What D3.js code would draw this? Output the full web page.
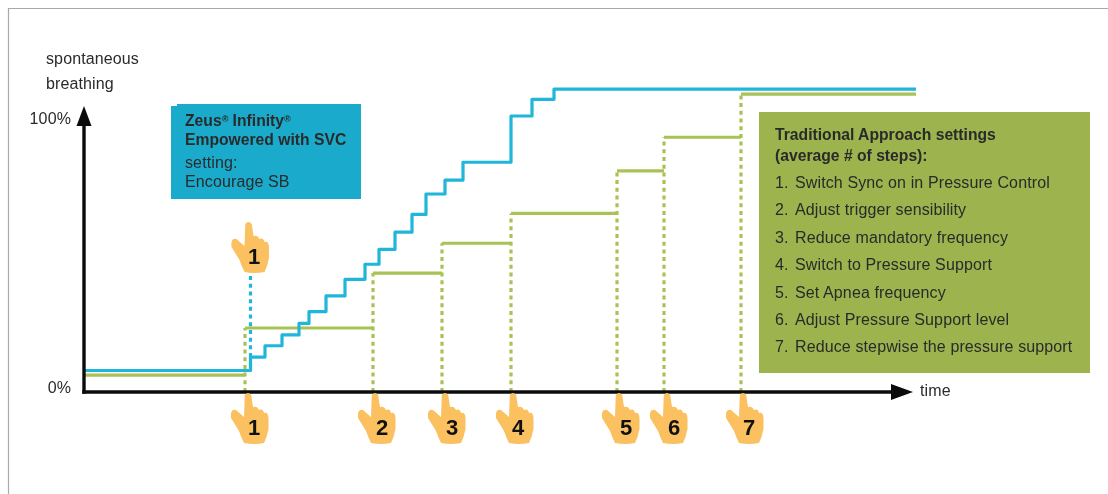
<!DOCTYPE html>
<html>
<head>
<meta charset="utf-8">
<script src="https://cdn.jsdelivr.net/npm/d3@7/dist/d3.min.js"></script>
<style>
html,body{margin:0;padding:0;background:#fff;overflow:hidden}
svg{display:block;filter:blur(0.4px)}
text{font-family:"Liberation Sans",Arial,sans-serif;fill:#2a2a2a}
</style>
</head>
<body>
<svg id="c" width="1108" height="494"></svg>
<script>
// Data. Time is in arbitrary units, breathing in %.
const blueTimes  = [0,166.5,181,198,215,225,242,261,281,295,311,328,342,361,379,427,448,470,832];
const blueLevels = [8,13,17.2,21.2,25.5,29.9,35.7,41.9,47.5,53,59.4,66,73.6,78.8,85.4,102.6,108.8,112.6,112.6];
const blueDottedTop = 44.6;
const greenTimes  = [0,161,289,358,427,533,580,657,832];
const greenLevels = [6.3,23.8,44.2,55.3,66.4,82.2,94.7,110.7,110.7];
const stepNumbers = ["1","2","3","4","5","6","7"];
const yTicks = [0,100];
const yTickLabels = ["0%","100%"];
const yTitle = ["spontaneous","breathing"];
const xTitle = "time";
const zeusLines = ["Empowered with SVC"];
const zeusSetting = ["setting:","Encourage SB"];
const tradTitle = ["Traditional Approach settings","(average # of steps):"];
const tradSteps = ["Switch Sync on in Pressure Control","Adjust trigger sensibility","Reduce mandatory frequency","Switch to Pressure Support","Set Apnea frequency","Adjust Pressure Support level","Reduce stepwise the pressure support"];

const BLUE="#1fb6da", GREEN="#a9c255", BOXBLUE="#1aabcc", BOXGREEN="#9cb34e", HAND="#fbc05f";
const FS=16, FSB=15.7, LS=0.12;
const svg=d3.select("#c");
const x=d3.scaleLinear().domain([0,832]).range([84,916]);
const y=d3.scaleLinear().domain([0,100]).range([392,123]);

// frame
svg.append("path").attr("d","M8.5,494V8.5H1108").attr("fill","none").attr("stroke","#a9a9a9").attr("stroke-width",1.2);

// text helper
function label(t,px,py,opts={}){
  return svg.append("text").attr("x",px).attr("y",py).attr("font-size",opts.size||(opts.bold?FSB:FS))
    .attr("letter-spacing",(opts.size||opts.bold)?0:LS)
    .attr("font-weight",opts.bold?"bold":"normal").attr("text-anchor",opts.anchor||"start").text(t);
}

// lines
const stepLine=d3.line().x(d=>x(d[0])).y(d=>y(d[1])).curve(d3.curveStepAfter);
const plain=d3.line().x(d=>x(d[0])).y(d=>y(d[1]));
const solid=(s,c)=>s.attr("fill","none").attr("stroke",c).attr("stroke-width",3.2).attr("stroke-linejoin","round").attr("stroke-linecap","butt");
const dotted=(s,c)=>solid(s,c).attr("stroke-dasharray","4 3.7");

// green horizontals and dashed risers
greenTimes.slice(0,-1).forEach((t,i)=>{
  svg.append("path").attr("d",plain([[t,greenLevels[i]],[greenTimes[i+1],greenLevels[i]]])).call(solid,GREEN);
  if(i>0) svg.append("path").attr("d",plain([[t,0],[t,greenLevels[i]]])).call(dotted,GREEN);
});
// blue
svg.append("path").attr("d",plain([[blueTimes[1],blueLevels[1]],[blueTimes[1],blueDottedTop]])).call(dotted,BLUE);
svg.append("path").attr("d",stepLine(blueTimes.map((t,i)=>[t,blueLevels[i]]))).call(solid,BLUE);

// axes
const yAxis=d3.axisLeft(y).tickValues(yTicks).tickFormat((d,i)=>yTickLabels[i]).tickSize(0).tickPadding(13);
const ga=svg.append("g").attr("transform",`translate(${x(0)},0)`).call(yAxis);
ga.select(".domain").remove();
ga.selectAll("text").attr("font-size",FS).attr("letter-spacing",LS).attr("font-family",null).attr("dy","0");
const axisCol="#0b0b0b";
svg.append("line").attr("x1",x(0)).attr("x2",x(0)).attr("y1",y(0)+1.7).attr("y2",122).attr("stroke",axisCol).attr("stroke-width",3.4);
svg.append("path").attr("d",d3.line()([[x(0),106],[x(0)+7.5,126],[x(0)-7.5,126]])+"Z").attr("fill",axisCol);
svg.append("line").attr("x1",x(0)-1.7).attr("x2",895).attr("y1",y(0)).attr("y2",y(0)).attr("stroke",axisCol).attr("stroke-width",3.4);
svg.append("path").attr("d",d3.line()([[913,y(0)],[891,y(0)-8],[891,y(0)+8]])+"Z").attr("fill",axisCol);

yTitle.forEach((t,i)=>label(t,46,64+i*25));
label(xTitle,920,396);

// boxes
svg.append("path").attr("d","M177,104H361V199H171V106H177Z").attr("fill",BOXBLUE);
svg.append("rect").attr("x",759).attr("y",112).attr("width",331).attr("height",261).attr("fill",BOXGREEN);

// Zeus box text
const z=svg.append("text").attr("x",185).attr("y",126).attr("font-size",FSB).attr("font-weight","bold");
z.append("tspan").text("Zeus");
z.append("tspan").attr("font-size",9).attr("dy",-4).text("®");
z.append("tspan").attr("dy",4).text(" Infinity");
z.append("tspan").attr("font-size",9).attr("dy",-4).text("®");
zeusLines.forEach(t=>label(t,185,145,{bold:true}));
zeusSetting.forEach((t,i)=>label(t,185,168+i*19));

// Traditional box text
tradTitle.forEach((t,i)=>label(t,775,140+i*21,{bold:true}));
tradSteps.forEach((t,i)=>{
  const py=188+i*27.4;
  label(stepNumbers[i]+".",775,py);
  label(t,795,py);
});

// pointing hands
const handPath="M-3.2,2Q0,-2 3.2,2L5,14Q9,12.5 11,17Q15,15 16,20Q20,18.5 20.5,25L20.5,36Q19,44 16,50Q6,52 -4,50Q-7,44 -9,38L-17,25Q-18,15.5 -12,17L-4,24Z";
function hand(px,py,num,nx){
  svg.append("path").attr("transform",`translate(${px},${py})`).attr("d",handPath).attr("fill",HAND);
  label(num,nx,py+42,{size:22,bold:true,anchor:"middle"}).style("fill","#111");
}
const handTipOffset=[3,2,3,2,2,3,2];
const numOffset=[9,9,10,7,9,10,8];
stepNumbers.forEach((n,i)=>{
  const gx=x(greenTimes[i+1]);
  hand(gx+handTipOffset[i],393,n,gx+numOffset[i]);
});
hand(x(blueTimes[1])-2,222,stepNumbers[0],x(blueTimes[1])+3.5);
</script>
</body>
</html>
